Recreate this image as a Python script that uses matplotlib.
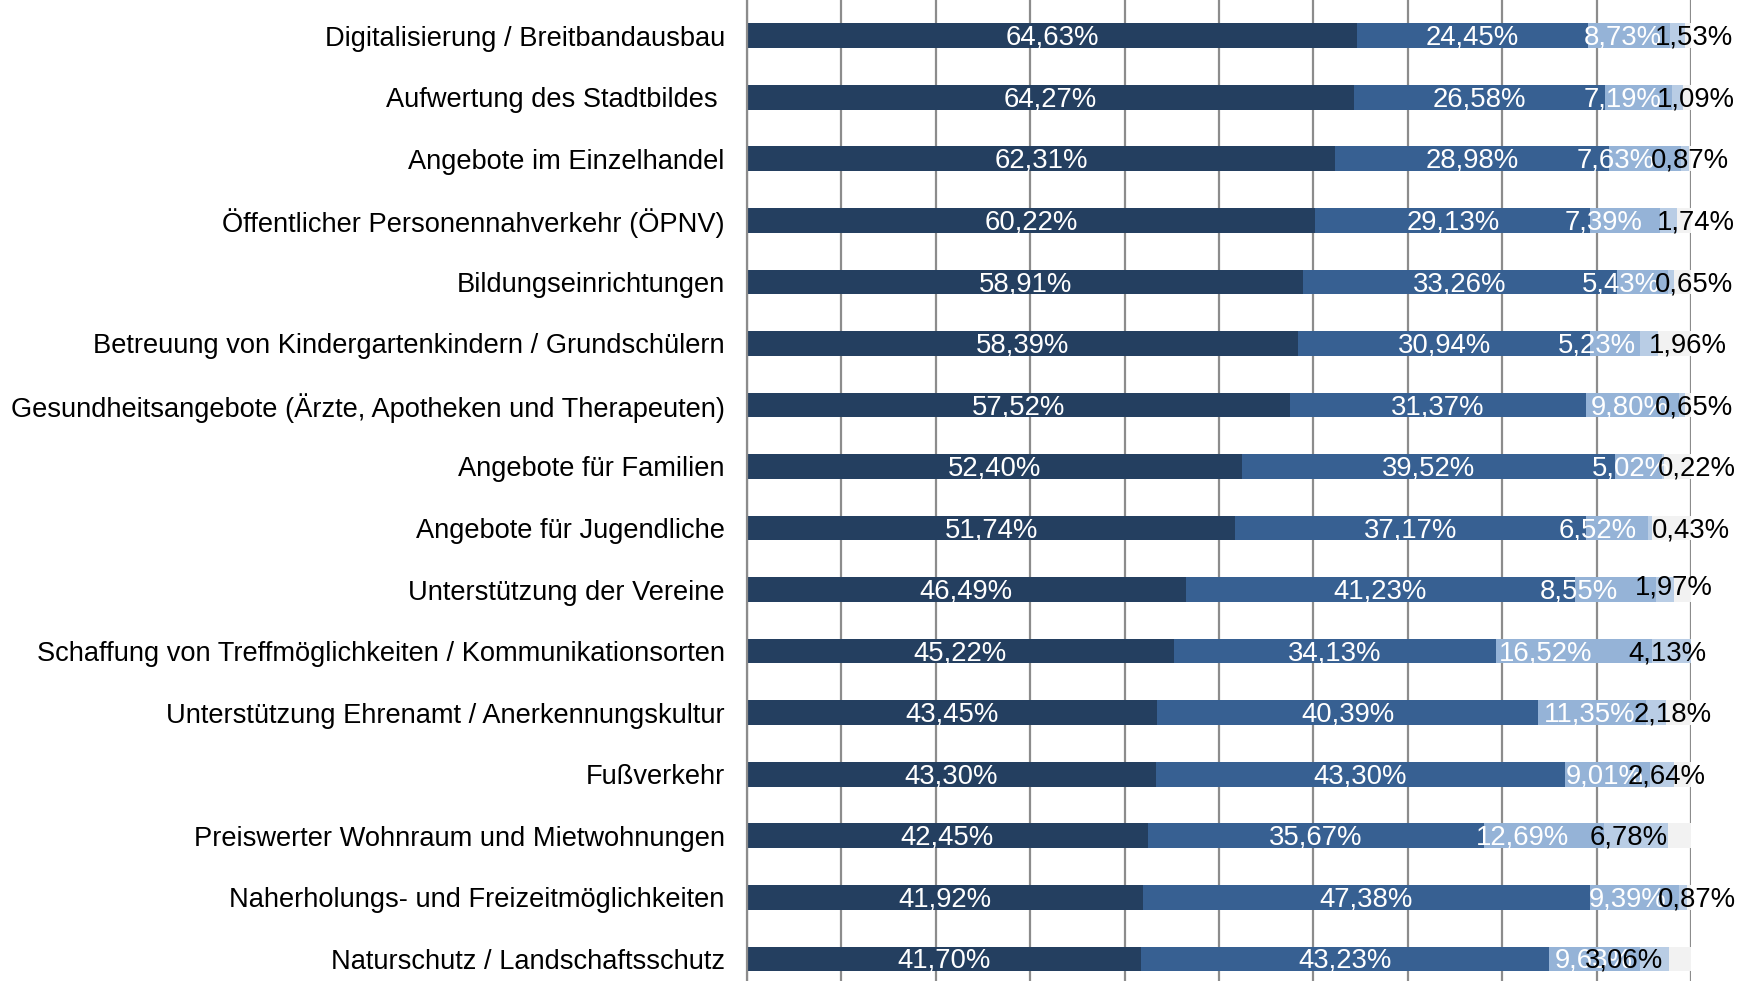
import matplotlib
matplotlib.use("Agg")
import matplotlib.pyplot as plt
import numpy as np

categories = [
    "Digitalisierung / Breitbandausbau",
    "Aufwertung des Stadtbildes ",
    "Angebote im Einzelhandel",
    "Öffentlicher Personennahverkehr (ÖPNV)",
    "Bildungseinrichtungen",
    "Betreuung von Kindergartenkindern / Grundschülern",
    "Gesundheitsangebote (Ärzte, Apotheken und Therapeuten)",
    "Angebote für Familien",
    "Angebote für Jugendliche",
    "Unterstützung der Vereine",
    "Schaffung von Treffmöglichkeiten / Kommunikationsorten",
    "Unterstützung Ehrenamt / Anerkennungskultur",
    "Fußverkehr",
    "Preiswerter Wohnraum und Mietwohnungen",
    "Naherholungs- und Freizeitmöglichkeiten",
    "Naturschutz / Landschaftsschutz",
]
series1 = [64.63, 64.27, 62.31, 60.22, 58.91, 58.39, 57.52, 52.40, 51.74, 46.49, 45.22, 43.45, 43.30, 42.45, 41.92, 41.70]
series2 = [24.45, 26.58, 28.98, 29.13, 33.26, 30.94, 31.37, 39.52, 37.17, 41.23, 34.13, 40.39, 43.30, 35.67, 47.38, 43.23]
series3 = [8.73, 7.19, 7.63, 7.39, 5.43, 5.23, 9.80, 5.02, 6.52, 8.55, 16.52, 11.35, 9.01, 12.69, 9.39, 9.63]
series4 = [1.53, 1.09, 0.87, 1.74, 0.65, 1.96, 0.65, 0.22, 0.43, 1.97, 4.13, 2.18, 2.64, 6.78, 0.87, 3.06]

# layout: horizontal nudges of the data labels (percentage points), as placed in the original
nudge3 = [-0.65, -1.65, -3.13, -2.26, -2.33, -1.87, -0.28, -0.81, -2.09, -3.92, -2.96, -0.26, -0.20, -2.30, -0.73, -0.02]
nudge4 = [1.77, 1.88, 0.52, 2.86, 2.42, 4.11, 1.33, 3.54, 4.35, 0.97, -0.42, 1.83, 0.47, -0.81, 1.46, -3.17]
vnudge4 = [0, 0, 0, 0, 0, 0, 0, 0, 0, -0.07, 0, 0, 0, 0, 0, 0]

colors = ["#243F60", "#376092", "#95B3D7", "#B9CDE5", "#F2F2F2"]
text_colors = ["white", "white", "white", "black"]

plt.rcParams['font.family'] = ['Liberation Sans', 'DejaVu Sans']

fig = plt.figure(figsize=(17.48, 9.81), dpi=100)
ax = fig.add_axes([747/1748, 0, 944/1748, 1])

y = np.arange(len(categories))
n = len(categories)
data = [np.array(series1), np.array(series2), np.array(series3), np.array(series4)]
nudges = [np.zeros(n), np.zeros(n), np.array(nudge3), np.array(nudge4)]
vnudges = [np.zeros(n), np.zeros(n), np.zeros(n), np.array(vnudge4)]
total = sum(data)
rest = 100 - total

left = np.zeros(n)
bar_h = 0.40
for i, vals in enumerate(data):
    ax.barh(y, vals, left=left, height=bar_h, color=colors[i], zorder=2, linewidth=0)
    left = left + vals
ax.barh(y, rest, left=left, height=bar_h, color=colors[4], zorder=2, linewidth=0)

# labels
left = np.zeros(n)
for i, vals in enumerate(data):
    for j, v in enumerate(vals):
        ax.text(left[j] + v / 2 + nudges[i][j], y[j] + 0.035 + vnudges[i][j],
                f"{v:.2f}%".replace(".", ","),
                ha="center", va="center", color=text_colors[i], fontsize=19.8,
                zorder=3 + i)
    left = left + vals

ax.set_xlim(0, 100)
ax.set_ylim(15.36, -0.58)
ax.set_xticks(np.arange(0, 101, 10))
ax.xaxis.grid(True, color="#8C8C8C", linewidth=1.6, zorder=0)
ax.set_axisbelow(True)
ax.tick_params(axis="x", length=0, labelbottom=False)
ax.set_yticks(y)
ax.set_yticklabels(categories, fontsize=19.6, color="black")
ax.tick_params(axis="y", length=0, pad=16)
for s in ["top", "right", "bottom"]:
    ax.spines[s].set_visible(False)
ax.spines["left"].set_color("#8C8C8C")
ax.spines["left"].set_linewidth(1.6)

fig.savefig("out.png", dpi=100)
